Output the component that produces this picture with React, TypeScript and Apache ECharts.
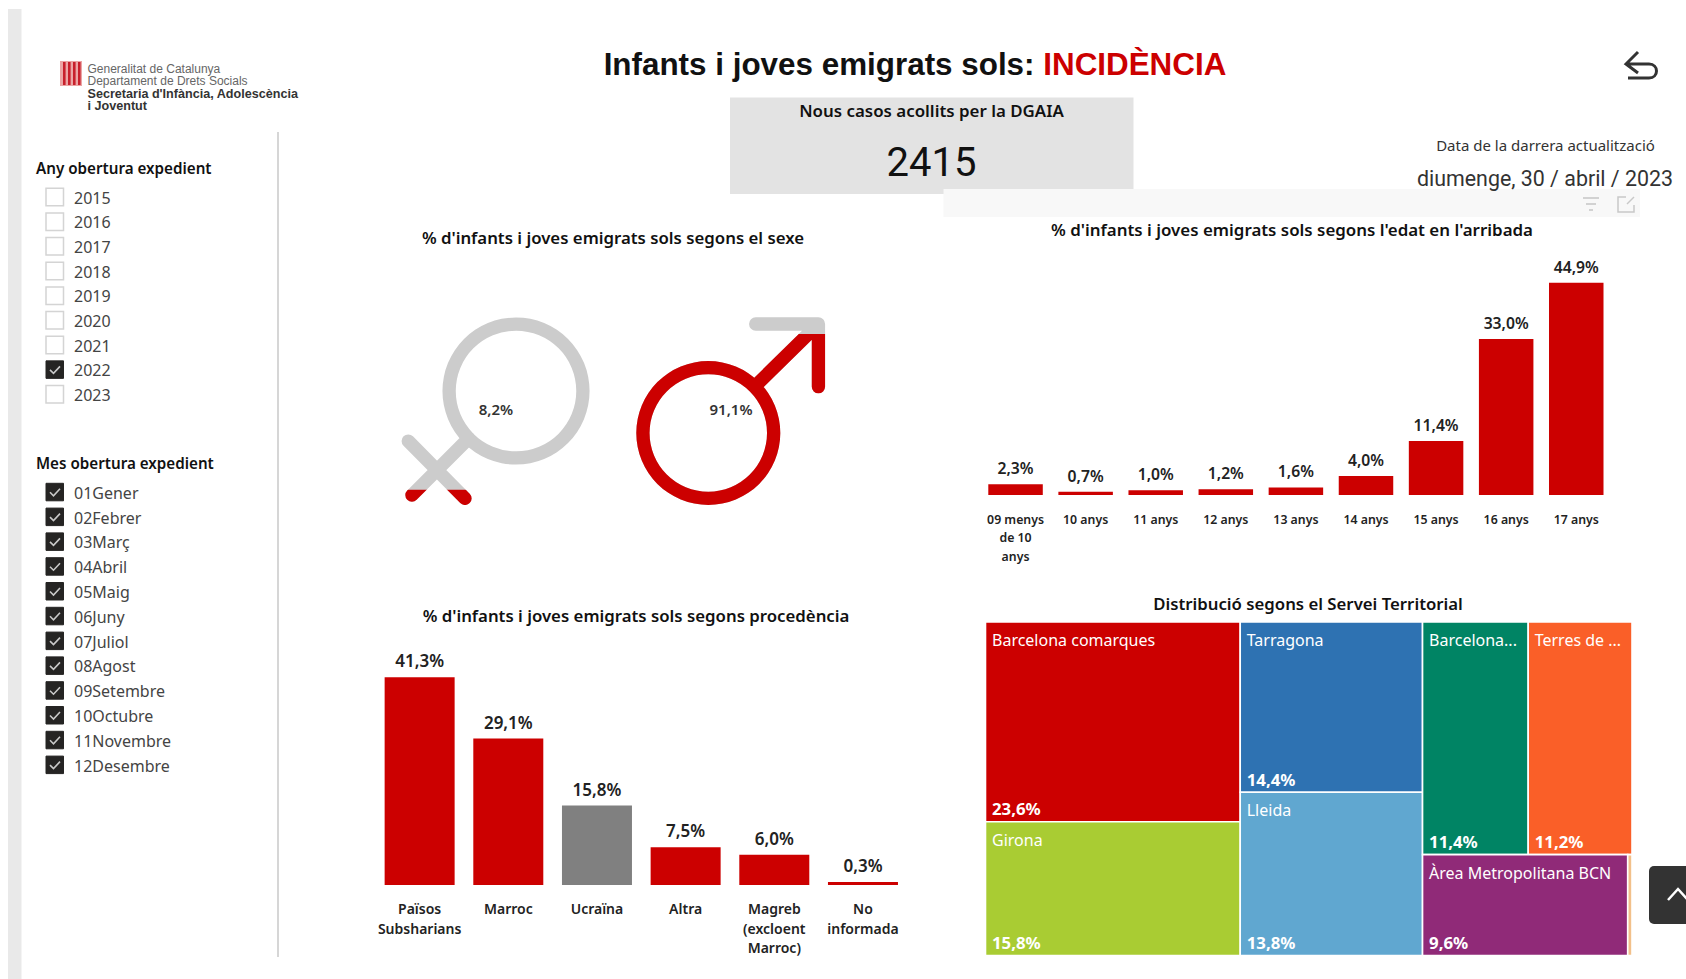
import React, { useEffect, useRef } from "react";
import * as echarts from "echarts";

const years = ["2015", "2016", "2017", "2018", "2019", "2020", "2021", "2022", "2023"];
const yearsChecked = ["2022"];
const months = ["01Gener", "02Febrer", "03Març", "04Abril", "05Maig", "06Juny", "07Juliol", "08Agost", "09Setembre", "10Octubre", "11Novembre", "12Desembre"];

const originCategories = ["Països\nSubsharians", "Marroc", "Ucraïna", "Altra", "Magreb\n(excloent\nMarroc)", "No\ninformada"];
const originValues = [41.3, 29.1, 15.8, 7.5, 6.0, 0.3];
const originColors = ["#CC0000", "#CC0000", "#808080", "#CC0000", "#CC0000", "#CC0000"];

const ageCategories = ["09 menys\nde 10\nanys", "10 anys", "11 anys", "12 anys", "13 anys", "14 anys", "15 anys", "16 anys", "17 anys"];
const ageValues = [2.3, 0.7, 1.0, 1.2, 1.6, 4.0, 11.4, 33.0, 44.9];

const femaleShare = 8.2;
const maleShare = 91.1;

const tileNames = ["Barcelona comarques", "Girona", "Tarragona", "Lleida", "Barcelona...", "Terres de ...", "Àrea Metropolitana BCN", ""];
const tileValues = [23.6, 15.8, 14.4, 13.8, 11.4, 11.2, 9.6, 0.2];
const tileColors = ["#CC0000", "#A9CC33", "#2E72B2", "#60A7D0", "#008464", "#FA5F28", "#902A78", "#F2C08A"];
const tileColumns = [[[0], [1]], [[2], [3]], [[4, 5], [6, 7]]];

const SANS = "'Noto Sans', 'Open Sans', sans-serif";
const RED = "#CC0000";
const pct = (v: number) => v.toFixed(1).replace(".", ",") + "%";

const circle = (cx: number, cy: number, r: number, sweep: number) =>
  `M${cx - r} ${cy}A${r} ${r} 0 1 ${sweep} ${cx + r} ${cy}A${r} ${r} 0 1 ${sweep} ${cx - r} ${cy}Z`;
const capsule = (x1: number, y1: number, x2: number, y2: number, w: number) => {
  const len = Math.hypot(x2 - x1, y2 - y1);
  const r = w / 2;
  const nx = (-(y2 - y1) / len) * r;
  const ny = ((x2 - x1) / len) * r;
  return `M${x1 + nx} ${y1 + ny}L${x2 + nx} ${y2 + ny}A${r} ${r} 0 0 0 ${x2 - nx} ${y2 - ny}L${x1 - nx} ${y1 - ny}A${r} ${r} 0 0 0 ${x1 + nx} ${y1 + ny}Z`;
};
const BAND = 13.3;
const femalePath =
  "path://" +
  circle(516, 391, 73.5, 0) +
  circle(516, 391, 60.2, 1) +
  capsule(468.8, 438.2, 412, 495, BAND) +
  capsule(408.3, 441, 465, 498.3, BAND);
const malePath =
  "path://" +
  circle(708.3, 433, 72, 0) +
  circle(708.3, 433, 58.7, 1) +
  capsule(754.5, 386.8, 818.4, 324, BAND) +
  capsule(755.7, 324, 818.4, 324, BAND) +
  capsule(818.4, 324, 818.4, 386.7, BAND);

echarts.graphic.registerShape(
  "backArrow",
  echarts.graphic.extendPath("M1638 52L1626 64L1638 73M1626 64L1649 64C1659 64 1659 78 1649 78L1628 78", {})
);

const text = (t: string, x: number, y: number, size: number, o: any = {}) => ({
  type: "text",
  x,
  y,
  silent: true,
  z: o.z ?? 10,
  style: {
    text: t,
    fontSize: size,
    fontFamily: o.family ?? SANS,
    fontWeight: o.weight ?? 400,
    fill: o.fill ?? "#222",
    textAlign: o.align ?? "left",
    textVerticalAlign: "middle",
    ...(o.style ?? {}),
  },
});

const checkbox = (x: number, y: number, on: boolean) => {
  const out: any[] = [
    {
      type: "rect",
      silent: true,
      shape: { x, y, width: 17.5, height: 17.5 },
      style: on ? { fill: "#252423", stroke: "#252423", lineWidth: 1 } : { fill: "#fff", stroke: "#d4d4d4", lineWidth: 1.5 },
    },
  ];
  if (on)
    out.push({
      type: "polyline",
      silent: true,
      z: 3,
      shape: { points: [[x + 4, y + 9], [x + 7.5, y + 12.5], [x + 14, y + 5.5]] },
      style: { fill: "none", stroke: "#c9c9c9", lineWidth: 1.6 },
    });
  return out;
};

const slicer = (title: string, titleY: number, items: string[], firstTop: number, pitch: number, isOn: (s: string) => boolean) => {
  const out: any[] = [text(title, 36, titleY, 15.2, { weight: 600, fill: "#111" })];
  items.forEach((s, i) => {
    const top = firstTop + i * pitch;
    out.push(...checkbox(46, top, isOn(s)));
    out.push(text(s, 74, top + 9.5, 16, { fill: "#444" }));
  });
  return out;
};

const logoStripes = [0, 1, 2, 3].map((i) => ({
  type: "rect",
  silent: true,
  z: 3,
  shape: { x: 63 + i * 5, y: 62, width: 2.6, height: 23 },
  style: { fill: "#c8202c" },
}));

const graphicElements: any[] = [
  { type: "rect", silent: true, shape: { x: 8, y: 9, width: 13.5, height: 970 }, style: { fill: "#e9e9e9" } },
  { type: "rect", silent: true, shape: { x: 277, y: 132, width: 2, height: 825 }, style: { fill: "#d6d6d6" } },
  { type: "rect", silent: true, shape: { x: 60, y: 61, width: 22, height: 25 }, style: { fill: "#eba5a5" } },
  ...logoStripes,
  text("Generalitat de Catalunya", 87.5, 68.5, 12, { family: "'Liberation Sans'", fill: "#666" }),
  text("Departament de Drets Socials", 87.5, 81, 12, { family: "'Liberation Sans'", fill: "#666" }),
  text("Secretaria d'Infància, Adolescència", 87.5, 93.5, 12.6, { family: "'Liberation Sans'", weight: 700, fill: "#333" }),
  text("i Joventut", 87.5, 106, 12.6, { family: "'Liberation Sans'", weight: 700, fill: "#333" }),
  ...slicer("Any obertura expedient", 167.5, years, 188.3, 24.65, (s) => yearsChecked.includes(s)),
  ...slicer("Mes obertura expedient", 463, months, 483.3, 24.8, () => true),
  {
    type: "text",
    x: 915,
    y: 64,
    silent: true,
    style: {
      text: "{a|Infants i joves emigrats sols: }{b|INCIDÈNCIA}",
      textAlign: "center",
      textVerticalAlign: "middle",
      rich: {
        a: { fontSize: 31.4, fontFamily: "'Liberation Sans'", fontWeight: 700, fill: "#111" },
        b: { fontSize: 31.4, fontFamily: "'Liberation Sans'", fontWeight: 700, fill: RED },
      },
    },
  },
  { type: "rect", silent: true, shape: { x: 730, y: 97.5, width: 403.5, height: 96.5 }, style: { fill: "#e3e3e3" } },
  text("Nous casos acollits per la DGAIA", 931.5, 110, 16.9, { align: "center", weight: 600, fill: "#111" }),
  text("2415", 931.5, 162.5, 40, { align: "center", family: "Roboto", fill: "#111" }),
  { type: "rect", silent: true, z: 5, shape: { x: 943.5, y: 189, width: 696.5, height: 28 }, style: { fill: "#f8f8f8" } },
  text("Data de la darrera actualització", 1545.5, 144.5, 15, { align: "center", fill: "#333" }),
  text("diumenge, 30 / abril / 2023", 1545, 178, 21.4, { align: "center", fill: "#333", family: "Roboto" }),
  ...[[1583, 1599, 198], [1586, 1596, 204], [1589, 1593, 210]].map(([a, b, y]) => ({
    type: "line",
    silent: true,
    z: 6,
    shape: { x1: a, y1: y, x2: b, y2: y },
    style: { stroke: "#c8c8c8", lineWidth: 1.6 },
  })),
  {
    type: "polyline",
    silent: true,
    z: 6,
    shape: { points: [[1626, 197], [1618, 197], [1618, 212], [1634, 212], [1634, 205]] },
    style: { fill: "none", stroke: "#c8c8c8", lineWidth: 1.5 },
  },
  { type: "line", silent: true, z: 6, shape: { x1: 1627, y1: 204, x2: 1634, y2: 197 }, style: { stroke: "#c8c8c8", lineWidth: 1.5 } },
  { type: "backArrow", silent: true, z: 6, x: 0, y: 0, style: { fill: "none", stroke: "#333", lineWidth: 3 } },
  text("% d'infants i joves emigrats sols segons el sexe", 613, 237, 16.8, { align: "center", weight: 600, fill: "#111" }),
  text("% d'infants i joves emigrats sols segons l'edat en l'arribada", 1292, 229, 16.9, { align: "center", weight: 600, fill: "#111" }),
  text("% d'infants i joves emigrats sols segons procedència", 636, 615, 16.8, { align: "center", weight: 600, fill: "#111" }),
  text("Distribució segons el Servei Territorial", 1308, 603.5, 16.75, { align: "center", weight: 600, fill: "#111" }),
  text(pct(femaleShare), 496, 409, 15, { align: "center", weight: 600, fill: "#333" }),
  text(pct(maleShare), 731, 409, 15, { align: "center", weight: 600, fill: "#333" }),
  { type: "rect", silent: true, z: 20, shape: { x: 1649, y: 866, width: 50, height: 58, r: 5 }, style: { fill: "#333" } },
  {
    type: "polyline",
    silent: true,
    z: 21,
    shape: { points: [[1668, 900], [1678, 889], [1688, 900]] },
    style: { fill: "none", stroke: "#fff", lineWidth: 2.5 },
  },
];

const tileTotal = tileValues.reduce((a, b) => a + b, 0);
const tileRects: number[][] = [];
let xCursor = 0;
tileColumns.forEach((rows) => {
  const colSum = rows.flat().reduce((s, i) => s + tileValues[i], 0);
  let yCursor = 0;
  rows.forEach((row) => {
    const rowSum = row.reduce((s, i) => s + tileValues[i], 0);
    let cx = xCursor;
    row.forEach((i) => {
      const w = (colSum * tileValues[i]) / rowSum;
      tileRects.push([cx, yCursor, cx + w, yCursor + rowSum / colSum, i]);
      cx += w;
    });
    yCursor += rowSum / colSum;
  });
  xCursor += colSum;
});

const renderTile = (_p: any, api: any) => {
  const a = api.coord([api.value(0), api.value(1)]);
  const b = api.coord([api.value(2), api.value(3)]);
  const i = api.value(4);
  const children: any[] = [
    {
      type: "rect",
      shape: { x: a[0], y: a[1], width: b[0] - a[0], height: b[1] - a[1] },
      style: { fill: tileColors[i], stroke: "#fff", lineWidth: 1.6 },
    },
  ];
  if (tileNames[i]) {
    children.push({
      type: "text",
      style: { text: tileNames[i], x: a[0] + 6.5, y: a[1] + 18, fontSize: 16, fontFamily: SANS, fill: "#fff", textVerticalAlign: "middle" },
    });
    children.push({
      type: "text",
      style: { text: pct(tileValues[i]), x: a[0] + 6.5, y: b[1] - 13, fontSize: 16.8, fontWeight: 700, fontFamily: SANS, fill: "#fff", textVerticalAlign: "middle" },
    });
  }
  return { type: "group", children };
};

const hiddenValue = (gridIndex: number, max: number) => ({ type: "value", gridIndex, min: 0, max, show: false });
const catAxis = (gridIndex: number, data: string[], size: number, lineHeight: number, margin: number) => ({
  type: "category",
  gridIndex,
  data,
  axisLine: { show: false },
  axisTick: { show: false },
  axisLabel: { interval: 0, fontSize: size, fontWeight: 600, fontFamily: SANS, color: "#222", lineHeight, margin, verticalAlign: "top" },
});
const barLabel = (size: number, distance: number) => ({
  show: true,
  position: "top",
  distance,
  fontSize: size,
  fontWeight: 600,
  fontFamily: SANS,
  color: "#222",
  formatter: (p: any) => pct(p.value),
});
const picto = (symbol: string, axis: number, w: number, h: number, share: number) => [
  {
    type: "pictorialBar",
    xAxisIndex: axis,
    yAxisIndex: axis,
    data: [100],
    symbol,
    symbolSize: [w, h],
    symbolPosition: "start",
    barGap: "-100%",
    itemStyle: { color: "#cccccc" },
    z: 2,
    silent: true,
  },
  {
    type: "pictorialBar",
    xAxisIndex: axis,
    yAxisIndex: axis,
    data: [share],
    symbol,
    symbolSize: [w, h],
    symbolPosition: "start",
    symbolClip: true,
    symbolBoundingData: 100,
    barGap: "-100%",
    itemStyle: { color: RED },
    z: 3,
    silent: true,
  },
];

const option: any = {
  animation: false,
  backgroundColor: "#fff",
  graphic: graphicElements,
  grid: [
    { left: 375.3, top: 658.6, width: 532, height: 226.4 },
    { left: 980.5, top: 258.6, width: 630.8, height: 236.4 },
    { left: 401.65, top: 317.5, width: 187.85, height: 187.5 },
    { left: 636.3, top: 317.35, width: 188.75, height: 187.65 },
    { left: 985.5, top: 622, width: 646.5, height: 333.5 },
  ],
  xAxis: [
    catAxis(0, originCategories, 14, 19.5, 14),
    catAxis(1, ageCategories, 12.3, 18.5, 15),
    { type: "category", gridIndex: 2, data: ["Dona"], show: false },
    { type: "category", gridIndex: 3, data: ["Home"], show: false },
    { type: "value", gridIndex: 4, min: 0, max: tileTotal, show: false },
  ],
  yAxis: [
    hiddenValue(0, 45),
    hiddenValue(1, 50),
    hiddenValue(2, 100),
    hiddenValue(3, 100),
    { type: "value", gridIndex: 4, min: 0, max: 1, inverse: true, show: false },
  ],
  series: [
    {
      type: "bar",
      xAxisIndex: 0,
      yAxisIndex: 0,
      barWidth: 70,
      barMinHeight: 3,
      data: originValues.map((v, i) => ({ value: v, itemStyle: { color: originColors[i] } })),
      label: barLabel(17, 8),
    },
    {
      type: "bar",
      xAxisIndex: 1,
      yAxisIndex: 1,
      barWidth: 54.5,
      itemStyle: { color: RED },
      data: ageValues,
      label: barLabel(15.7, 8),
    },
    ...picto(femalePath, 2, 187.85, 187.5, femaleShare),
    ...picto(malePath, 3, 188.75, 187.65, maleShare),
    {
      type: "custom",
      xAxisIndex: 4,
      yAxisIndex: 4,
      data: tileRects,
      encode: { x: [0, 2], y: [1, 3] },
      renderItem: renderTile,
      silent: true,
      clip: false,
    },
  ],
};

export default function App() {
  const ref = useRef<HTMLDivElement>(null);
  useEffect(() => {
    document.body.style.margin = "0";
    document.body.style.overflow = "hidden";
    const chart = echarts.init(ref.current!, undefined, { renderer: "svg" });
    chart.setOption(option);
    return () => chart.dispose();
  }, []);
  return <div ref={ref} style={{ width: 1686, height: 979 }} />;
}
